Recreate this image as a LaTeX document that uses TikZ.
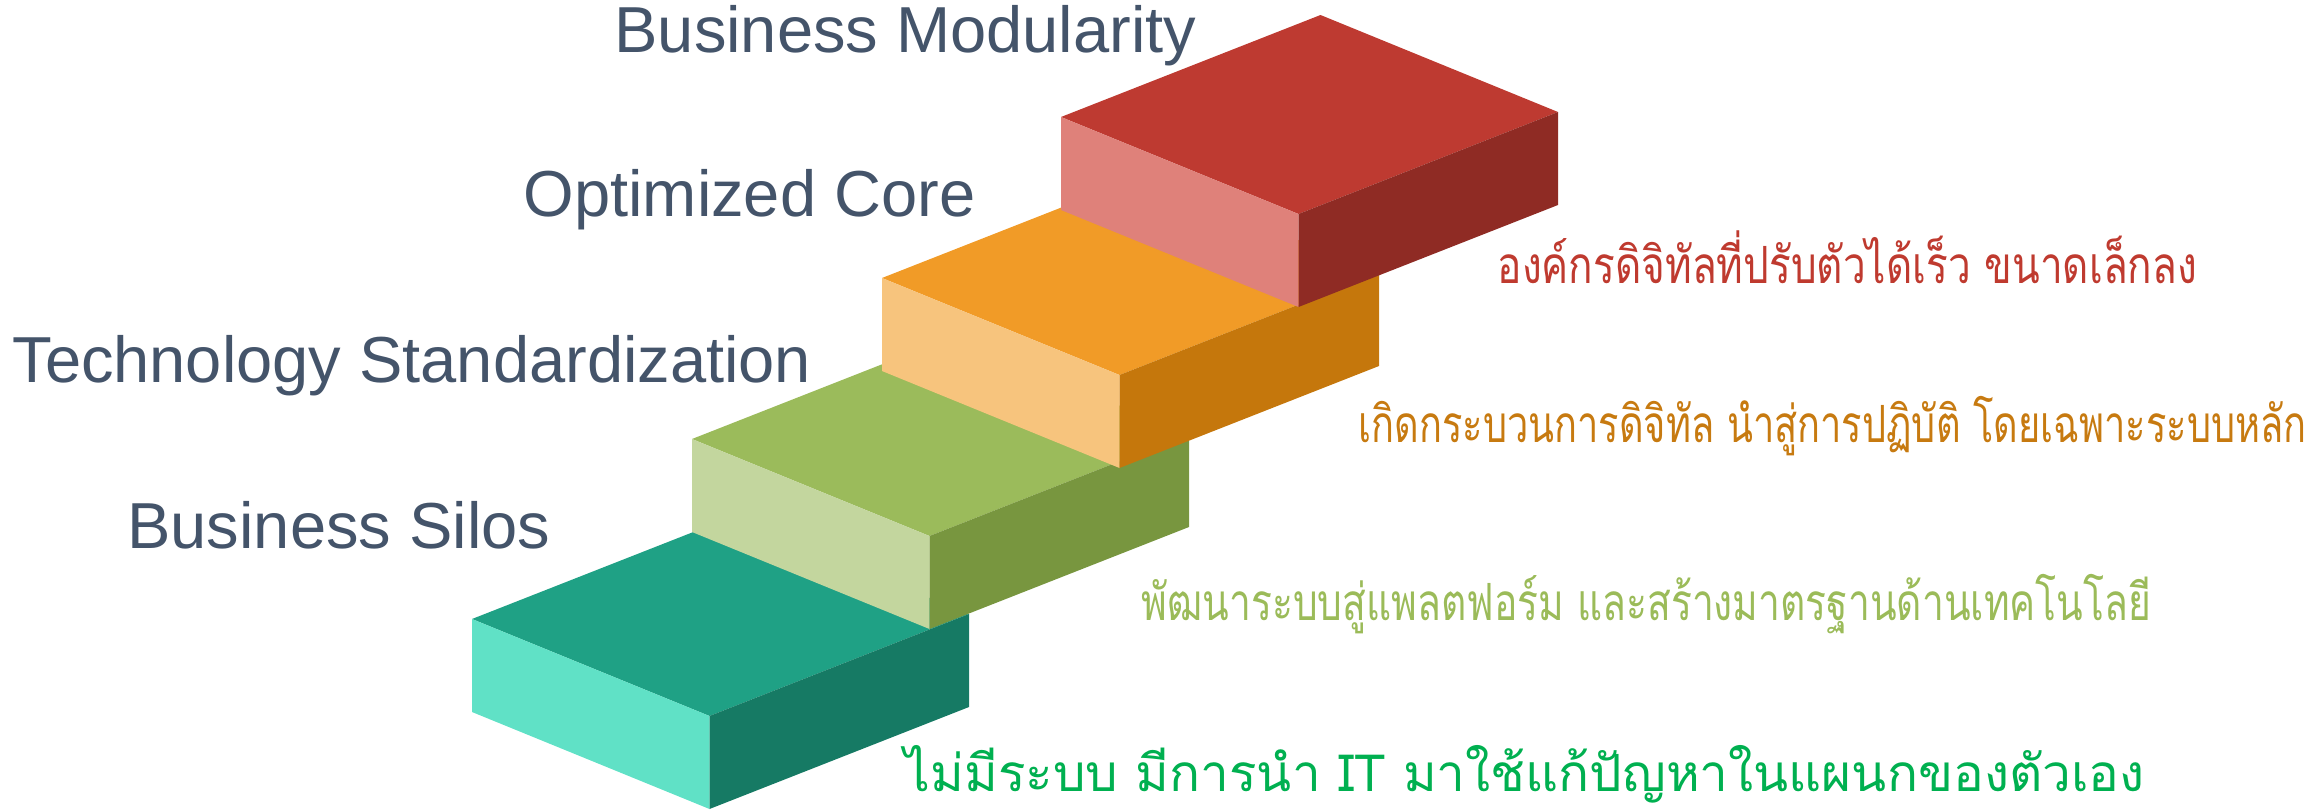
\documentclass[tikz,border=0pt]{standalone}
\usepackage{fontspec}
\usetikzlibrary{calc}
\setmainfont{Liberation Sans}
\newfontfamily\thaifont[Script=Thai]{Loma}
\definecolor{titleGray}{HTML}{44546A}
\definecolor{tealTop}{HTML}{1FA185}
\definecolor{tealLeft}{HTML}{60E1C6}
\definecolor{tealRight}{HTML}{167A64}
\definecolor{greenTop}{HTML}{9BBB5B}
\definecolor{greenLeft}{HTML}{C3D69E}
\definecolor{greenRight}{HTML}{78963F}
\definecolor{orangeTop}{HTML}{F19B27}
\definecolor{orangeLeft}{HTML}{F7C47D}
\definecolor{orangeRight}{HTML}{C5770C}
\definecolor{redTop}{HTML}{BE3A31}
\definecolor{redLeft}{HTML}{DF817A}
\definecolor{redRight}{HTML}{8F2B24}
\definecolor{noteRed}{HTML}{BF3A2F}
\definecolor{noteOrange}{HTML}{C77A10}
\definecolor{noteGreen}{HTML}{9BBB59}
\definecolor{noteBright}{HTML}{00B050}
\begin{document}
\begin{tikzpicture}[x=0.1mm,y=-0.1mm,
    stairTitle/.style={anchor=base east,inner sep=0pt,text=titleGray,font=\fontsize{18.5}{22}\selectfont},
    stairNote/.style={anchor=base west,inner sep=0pt,font=\thaifont\fontsize{14.6}{17}\selectfont\addfontfeature{FakeStretch=#1}},
]
\useasboundingbox (0,0) rectangle (2323,810);
% Step 1 (teal)
\coordinate (tealL) at (472,619);
\fill[tealTop] (tealL) -- ++(259.5,-102) -- ++(237.5,97) -- ++(-259.5,102) -- cycle;
\fill[tealLeft] (tealL) -- ++(237.5,97) -- ++(0,93) -- ++(-237.5,-97) -- cycle;
\fill[tealRight] ($(tealL)+(237.5,97)$) -- ++(259.5,-102) -- ++(0,93) -- ++(-259.5,102) -- cycle;
% Step 2 (green)
\coordinate (greenL) at (692,439);
\fill[greenTop] (greenL) -- ++(259.5,-102) -- ++(237.5,97) -- ++(-259.5,102) -- cycle;
\fill[greenLeft] (greenL) -- ++(237.5,97) -- ++(0,93) -- ++(-237.5,-97) -- cycle;
\fill[greenRight] ($(greenL)+(237.5,97)$) -- ++(259.5,-102) -- ++(0,93) -- ++(-259.5,102) -- cycle;
% Step 3 (orange)
\coordinate (orangeL) at (882,278);
\fill[orangeTop] (orangeL) -- ++(259.5,-102) -- ++(237.5,97) -- ++(-259.5,102) -- cycle;
\fill[orangeLeft] (orangeL) -- ++(237.5,97) -- ++(0,93) -- ++(-237.5,-97) -- cycle;
\fill[orangeRight] ($(orangeL)+(237.5,97)$) -- ++(259.5,-102) -- ++(0,93) -- ++(-259.5,102) -- cycle;
% Step 4 (red)
\coordinate (redL) at (1061,117);
\fill[redTop] (redL) -- ++(259.5,-102) -- ++(237.5,97) -- ++(-259.5,102) -- cycle;
\fill[redLeft] (redL) -- ++(237.5,97) -- ++(0,93) -- ++(-237.5,-97) -- cycle;
\fill[redRight] ($(redL)+(237.5,97)$) -- ++(259.5,-102) -- ++(0,93) -- ++(-259.5,102) -- cycle;
% Titles
\node[stairTitle] (modularity) at (1197,52) {Business Modularity};
\node[stairTitle] (core) at (976,216) {Optimized Core};
\node[stairTitle] (standard) at (812,382) {Technology Standardization};
\node[stairTitle] (silos) at (551,548) {Business Silos};
% Thai notes
\node[stairNote=0.79,text=noteRed] (noteModularity) at (1497,283) {องค์กรดิจิทัลที่ปรับตัวได้เร็ว ขนาดเล็กลง};
\node[stairNote=0.74,text=noteOrange] (noteCore) at (1358,442) {เกิดกระบวนการดิจิทัล นำสู่การปฏิบัติ โดยเฉพาะระบบหลัก};
\node[stairNote=0.76,text=noteGreen] (noteStandard) at (1141,620) {พัฒนาระบบสู่แพลตฟอร์ม และสร้างมาตรฐานด้านเทคโนโลยี};
\node[stairNote=1.0,text=noteBright] (noteSilos) at (904,791) {ไม่มีระบบ มีการนำ IT มาใช้แก้ปัญหาในแผนกของตัวเอง};
\end{tikzpicture}
\end{document}
